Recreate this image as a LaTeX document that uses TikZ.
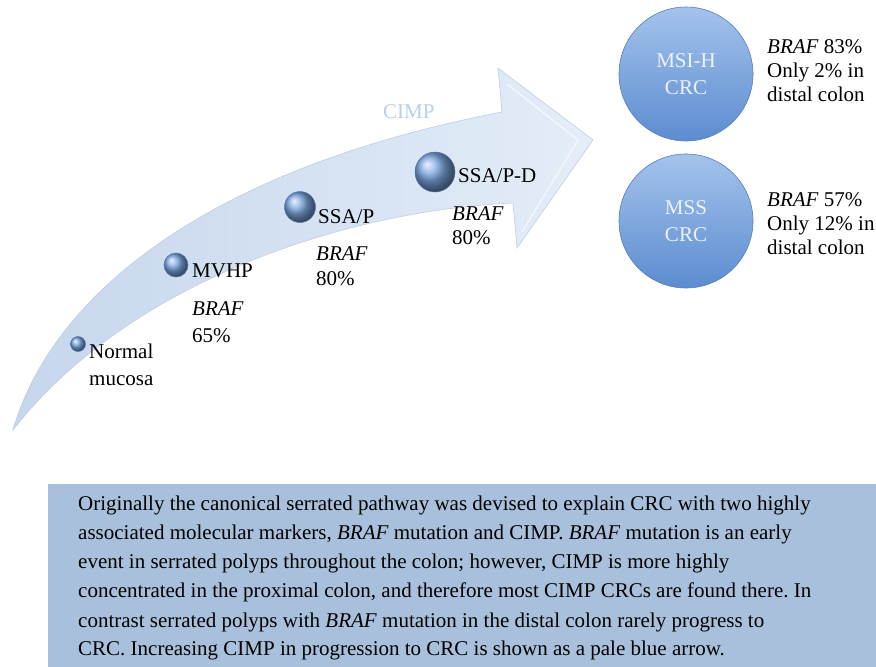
\documentclass[tikz,border=0pt]{standalone}
\usepackage{fontspec}
\setmainfont{Liberation Serif}
\frenchspacing
\definecolor{arrL}{RGB}{198,214,236}
\definecolor{arrR}{RGB}{228,237,248}
\definecolor{arrE}{RGB}{190,207,231}
\definecolor{sphC}{RGB}{125,168,226}
\definecolor{sphD}{RGB}{78,118,178}
\definecolor{cT}{RGB}{164,195,236}
\definecolor{cB}{RGB}{92,140,208}
\definecolor{cE}{RGB}{84,126,190}
\definecolor{cTxt}{RGB}{235,242,251}
\definecolor{boxC}{RGB}{168,192,220}
\definecolor{cimpC}{RGB}{184,208,236}
\begin{document}
\begin{tikzpicture}[x=1pt,y=-1pt,
  lbl/.style={inner sep=0pt, anchor=base west, font=\fontsize{21}{24}\selectfont},
  body/.style={inner sep=0pt, anchor=base west, font=\fontsize{21}{29}\selectfont},
  sph/.style={circle, inner sep=0pt, ball color=sphC, draw=sphD, line width=0.5pt},
  bigc/.style={circle, inner sep=0pt, minimum size=134pt, top color=cT, bottom color=cB,
     draw=cE, line width=0.6pt, text=cTxt, align=center, font=\fontsize{21}{27}\selectfont}]
\useasboundingbox (0,0) rectangle (876,667);
\fill[white] (0,0) rectangle (876,667);
% arrow
\shade[left color=arrL, right color=arrR, draw=arrE, line width=0.6pt]
  (13,430) .. controls (50,300) and (200,170) .. (502,112) -- (498,68) -- (593,140)
  -- (517,248) -- (513,203) .. controls (350,210) and (130,280) .. (13,430) -- cycle;
\draw[white, opacity=0.7, line width=1.2pt] (507,84) -- (578,140) -- (522,232);
% CIMP
\node[lbl, text=cimpC] (cimp) at (383,118) {CIMP};
% spheres
\node[sph, minimum size=15pt] (nm) at (78,344) {};
\node[sph, minimum size=24pt] (mv) at (176,265) {};
\node[sph, minimum size=31pt] (sp) at (300,207) {};
\node[sph, minimum size=40pt] (sd) at (435,172) {};
% labels
\node[lbl] (nm1) at (89,358) {Normal};
\node[lbl] (nm2) at (89,385) {mucosa};
\node[lbl] (mv1) at (192,277) {MVHP};
\node[lbl] (mv2) at (192,315) {\itshape BRAF};
\node[lbl] (mv3) at (192,342) {65\%};
\node[lbl] (sp1) at (318,223) {SSA/P};
\node[lbl] (sp2) at (316,260) {\itshape BRAF};
\node[lbl] (sp3) at (316,285) {80\%};
\node[lbl] (sd1) at (458,182) {SSA/P-D};
\node[lbl] (sd2) at (452,220) {\itshape BRAF};
\node[lbl] (sd3) at (452,244) {80\%};
% big circles
\node[bigc] (msi) at (686,74) {MSI-H\\CRC};
\node[bigc] (mss) at (686,221) {MSS\\CRC};
\node[lbl] (r1) at (767,53) {\textit{BRAF} 83\%};
\node[lbl] (r2) at (767,77) {Only 2\% in};
\node[lbl] (r3) at (767,101) {distal colon};
\node[lbl] (r4) at (767,206) {\textit{BRAF} 57\%};
\node[lbl] (r5) at (767,230) {Only 12\% in};
\node[lbl] (r6) at (767,254) {distal colon};
% bottom box
\fill[boxC] (48,484) rectangle (876,667);
\node[body] (b1) at (78,510) {Originally the canonical serrated pathway was devised to explain CRC with two highly};
\node[body] (b2) at (78,539) {associated molecular markers, \textit{BRAF} mutation and CIMP. \textit{BRAF} mutation is an early};
\node[body] (b3) at (78,568) {event in serrated polyps throughout the colon; however, CIMP is more highly};
\node[body] (b4) at (78,597) {concentrated in the proximal colon, and therefore most CIMP CRCs are found there. In};
\node[body] (b5) at (78,627) {contrast serrated polyps with \textit{BRAF} mutation in the distal colon rarely progress to};
\node[body] (b6) at (78,655) {CRC. Increasing CIMP in progression to CRC is shown as a pale blue arrow.};
\end{tikzpicture}
\end{document}
